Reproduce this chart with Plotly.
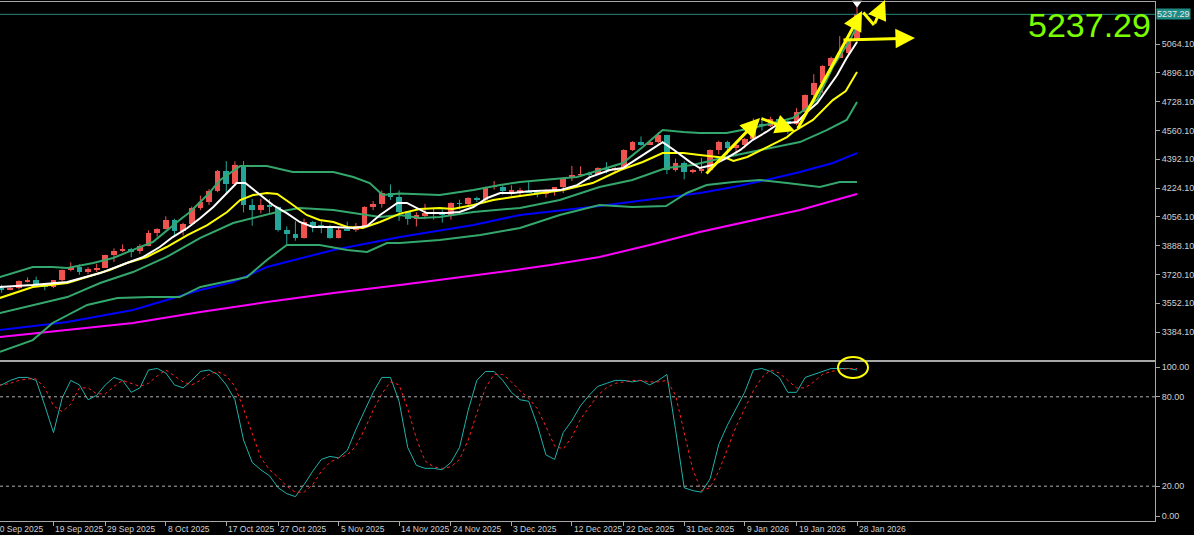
import plotly.graph_objects as go
import pandas as pd

# ---------------- data ----------------
dates = pd.bdate_range("2025-09-10", "2026-01-28")

opens = [3625,3641,3634,3643,3679,3690,3659,3644,3685,3746,3764,3736,3749,3760,3833,3858,3866,3856,3886,3960,
         3985,4040,3976,4017,4110,4143,4209,4326,4250,4356,4125,4094,4126,4112,3982,3953,3930,4025,4002,4000,
         3932,3980,3977,4000,4115,4128,4195,4171,4084,4045,4066,4077,4078,4065,4136,4131,4164,4156,4230,4230,
         4205,4206,4208,4197,4190,4208,4229,4280,4300,4304,4303,4338,4332,4339,4445,4490,4480,4490,4532,4332,
         4372,4319,4325,4330,4448,4495,4456,4477,4509,4597,4587,4625,4615,4595,4670,4765,4835,4935,4985,5010,5080]
highs = [3658,3660,3655,3685,3703,3707,3668,3687,3749,3791,3779,3762,3782,3835,3872,3895,3875,3897,3977,3990,
         4059,4045,4022,4116,4180,4218,4330,4381,4380,4382,4160,4162,4160,4115,4000,4030,4046,4032,4030,4010,
         3995,4028,4020,4118,4148,4210,4245,4211,4090,4083,4132,4110,4100,4140,4156,4170,4174,4232,4265,4240,
         4240,4226,4260,4210,4218,4230,4285,4353,4350,4320,4345,4375,4348,4450,4498,4525,4500,4550,4535,4395,
         4380,4335,4400,4450,4500,4500,4480,4515,4630,4635,4640,4630,4625,4690,4770,4888,4940,4990,5110,5100,5290]
lows = [3620,3613,3628,3633,3673,3646,3628,3640,3680,3738,3718,3722,3734,3758,3793,3850,3820,3840,3884,3940,
        3983,3945,3947,4007,4095,4125,4200,4185,4236,4082,4004,4076,4080,3970,3886,3917,3929,3966,3960,3928,
        3930,3974,3968,3998,4095,4110,4155,4032,4010,4000,4042,4040,4022,4040,4100,4120,4142,4150,4215,4185,
        4180,4175,4195,4170,4168,4180,4195,4265,4290,4270,4300,4310,4315,4338,4440,4470,4475,4485,4305,4320,
        4275,4310,4310,4325,4420,4420,4410,4455,4505,4560,4580,4580,4540,4590,4660,4750,4780,4900,4990,4995,5070]
closes = [3641,3634,3643,3679,3690,3659,3644,3685,3746,3764,3736,3749,3760,3833,3858,3866,3856,3886,3960,3985,
          4040,3976,4017,4110,4143,4209,4326,4250,4356,4125,4094,4126,4112,3982,3953,3930,4025,4002,4000,3932,
          3980,3977,4000,4115,4128,4195,4171,4084,4045,4066,4077,4078,4065,4136,4131,4164,4156,4230,4230,4205,
          4206,4208,4197,4190,4208,4229,4280,4300,4304,4303,4338,4332,4339,4445,4490,4480,4490,4532,4332,4372,
          4319,4325,4330,4448,4495,4456,4477,4509,4597,4587,4625,4615,4595,4670,4765,4835,4935,4985,5010,5080,5237.29]

# indicator lines (bar position, price)
fast_ma_x = [0.8,4.6,8.6,10.9,12.4,15.5,17.4,19.3,20.8,22.5,24,25.5,27.1,28.2,29.2,30.6,32.4,34,35.5,37,39.4,41.7,43.3,44.8,46.8,47.9,49.4,50.2,52.5,54,55.6,57.2,58.7,60.2,62,65.6,67.6,69.1,71.4,72.9,75.2,77.5,78.7,80.7,81.8,83.3,84.9,86.5,87.9,89.5,90.7,91.9,93.1,94.2,95.4,96.5,97.7,98.8,100]
fast_ma_y = [3647,3658,3676,3705,3728,3787,3822,3880,3938,3991,4049,4113,4195,4253,4253,4195,4125,4078,4026,3997,3997,3991,4003,4067,4137,4137,4096,4078,4078,4084,4113,4166,4195,4195,4205,4212,4241,4288,4329,4341,4416,4492,4450,4375,4341,4358,4399,4446,4504,4551,4592,4603,4609,4667,4720,4796,4883,4983,5076]

slow_ma_x = [0.8,4.6,8.6,11.6,13.5,15.5,17.8,20.1,22.5,24.8,27.1,28.6,30.1,31.7,32.9,34.4,36.3,37.8,39.4,41,42.8,44.8,47.1,49.4,51.7,53.2,55.6,57.9,60.2,66,69.4,72.6,75.2,77.5,79.9,81.8,84.9,85.7,87.3,89.6,91.9,92.6,94.9,97.2,98.7,100]
slow_ma_y = [3583,3647,3670,3717,3746,3787,3822,3880,3950,4008,4084,4154,4183,4195,4189,4137,4067,4038,4026,3997,3991,4026,4075,4102,4108,4102,4125,4154,4172,4212,4253,4329,4376,4428,4428,4417,4399,4382,4405,4463,4521,4551,4621,4737,4790,4901]

bb_up_x = [0.8,4.6,6.9,8.6,11.6,13.9,16.2,18.5,21.6,22.8,24.8,26.3,28.6,31.7,34.7,39.4,41.7,43.6,45.1,47.1,51.7,55.6,58.7,61,63.6,67.6,71.4,72.9,75.2,77.5,79.9,81.8,84.9,87.9,90.3,92.6,94.2,95.4,97.2,99.2,100]
bb_up_y = [3705,3763,3763,3758,3787,3816,3863,3909,4038,4084,4183,4271,4352,4352,4318,4318,4288,4253,4183,4192,4183,4212,4242,4259,4271,4288,4347,4370,4463,4562,4551,4545,4545,4574,4603,4633,4691,4740,4930,5087,5170]

bb_mid_x = [0.8,4.6,8.6,12.4,16.2,20.1,24,27.8,30.1,32.9,35.5,39.4,41.7,44.8,47.1,49.4,51.7,55.6,61,65.6,70.2,74,77.9,81,84.9,88.8,93.4,96.5,98.8,100]
bb_mid_y = [3495,3542,3588,3670,3734,3822,3933,4020,4049,4084,4108,4096,4078,4055,4067,4049,4055,4084,4108,4154,4230,4271,4341,4358,4405,4446,4492,4562,4621,4726]

bb_lo_x = [0.8,4.6,6.9,10.9,14.4,18.2,21.6,24,27.8,29.4,31.7,34,37.8,41,43.3,45.6,47.1,51.7,56.4,61,65.6,70.2,74,77.9,80.3,82.6,85.7,88.8,91.9,95.7,98,100]
bb_lo_y = [3268,3337,3437,3542,3583,3588,3588,3647,3688,3705,3804,3892,3892,3863,3851,3903,3903,3921,3950,3991,4067,4125,4113,4119,4195,4242,4259,4271,4253,4230,4259,4259]

ma50_x = [0.8,8.6,16.2,24,27.8,31.7,39.4,47.1,55.6,61,70.2,78,81.8,85.7,89.5,93.4,97.2,100]
ma50_y = [3396,3443,3513,3629,3676,3763,3863,3938,4008,4067,4119,4172,4195,4230,4271,4318,4370,4428]

ma100_x = [0.8,8.6,16.2,24,31.7,39.4,47.1,58.7,64.5,70.2,76,81.8,88,93.4,100]
ma100_y = [3355,3396,3437,3501,3559,3612,3658,3734,3775,3822,3892,3968,4038,4096,4189]

stoch_k = [88,88,91,93,93,91,74,56,79,91,88,78,81,88,93,91,83,86,98,99,
           96,88,86,91,97,98,95,88,78,51,36,31,27,19,15,13,21,30,38,40,
           39,44,58,71,83,93,93,77,46,34,32,32,31,36,46,71,91,97,97,91,
           83,78,77,61,41,38,56,64,74,81,87,89,91,91,90,91,88,91,95,58,
           19,17,16,25,48,61,72,83,98,99,97,93,83,83,93,95,97,99,99,99,98]
stoch_d = [87,88,89,91,92,92,86,74,70,75,86,86,82,82,87,91,89,87,89,94,
           98,94,90,88,91,95,97,94,87,72,55,39,31,26,20,16,16,21,30,36,
           39,41,47,58,71,82,90,88,72,52,37,33,32,33,38,51,69,86,95,95,
           90,84,79,72,60,47,45,53,65,73,81,86,89,90,91,91,90,90,91,81,
           57,31,17,19,30,45,60,72,84,93,98,96,91,86,86,90,95,97,98,99,99]

price_ticks = [5064.10, 4896.10, 4728.10, 4560.10, 4392.10, 4224.10, 4056.10, 3888.10, 3720.10, 3552.10, 3384.10]
stoch_ticks = [100.0, 80.0, 20.0, 0.0]
stoch_levels = [80, 20]
date_labels = ["10 Sep 2025", "19 Sep 2025", "29 Sep 2025", "8 Oct 2025", "17 Oct 2025", "27 Oct 2025",
               "5 Nov 2025", "14 Nov 2025", "24 Nov 2025", "3 Dec 2025", "12 Dec 2025", "22 Dec 2025",
               "31 Dec 2025", "9 Jan 2026", "19 Jan 2026", "28 Jan 2026"]
last_price = 5237.29

# hand-drawn yellow arrows: (tail bar, tail price, head bar, head price, head?)
arrows = [
    (82.41, 4300.0, 88.77, 4632.5, True),
    (88.77, 4632.5, 92.82, 4556.7, True),
    (93.06, 4562.5, 100.58, 5256.6, True),
    (100.58, 5256.6, 101.97, 5175.0, False),
    (101.97, 5175.0, 103.24, 5320.8, True),
    (98.26, 5087.5, 106.71, 5099.1, True),
]

# ---------------- figure ----------------
RED = "#ef5350"
TEAL = "#26a69a"
GRID = "#a8a8a8"
TXT = "#d0d0d0"
FONT = "Liberation Sans, Arial, sans-serif"

idx = list(range(len(dates)))
fig = go.Figure()

# wicks
for col, cond in ((RED, lambda o, c: c >= o), (TEAL, lambda o, c: c < o)):
    wx, wy = [], []
    for i in idx:
        if cond(opens[i], closes[i]):
            wx += [i, i, None]
            wy += [lows[i], highs[i], None]
    fig.add_trace(go.Scatter(x=wx, y=wy, mode="lines", line=dict(color=col, width=1),
                             hoverinfo="skip", showlegend=False, xaxis="x", yaxis="y"))

# bodies
body_base = [min(o, c) for o, c in zip(opens, closes)]
body_h = [max(abs(c - o), 4) for o, c in zip(opens, closes)]
body_col = [RED if c >= o else TEAL for o, c in zip(opens, closes)]
fig.add_trace(go.Bar(x=idx, y=body_h, base=body_base, width=0.66, marker=dict(color=body_col, line=dict(width=0)),
                     showlegend=False, xaxis="x", yaxis="y"))

def add_line(xs, ys, color, width=2, axis="y", dash=None):
    fig.add_trace(go.Scatter(x=xs, y=ys, mode="lines", line=dict(color=color, width=width, dash=dash),
                             hoverinfo="skip", showlegend=False, xaxis="x" if axis == "y" else "x2", yaxis=axis))

add_line(ma100_x, ma100_y, "#ff00ff")
add_line(ma50_x, ma50_y, "#0000ff")
add_line(bb_lo_x, bb_lo_y, "#34a86c")
add_line(bb_mid_x, bb_mid_y, "#34a86c")
add_line(bb_up_x, bb_up_y, "#34a86c")
add_line(slow_ma_x, slow_ma_y, "#ffff00")
add_line(fast_ma_x, fast_ma_y, "#ffffff")

# high marker
fig.add_trace(go.Scatter(x=[idx[-1]], y=[5303], mode="markers", marker=dict(symbol="triangle-down", size=9, color="#ffffff"),
                         cliponaxis=False, hoverinfo="skip", showlegend=False, xaxis="x", yaxis="y"))

# stochastic
add_line(idx, stoch_k, "#20b2aa", width=1, axis="y2")
add_line(idx, stoch_d, "#ff2020", width=1, axis="y2", dash="dot")

H_PLOT = 521.0
def py(px):
    return (H_PLOT - px) / H_PLOT

X_RANGE = [0.81, 134.49]
def xpaper(i):
    return (i - X_RANGE[0]) / (X_RANGE[1] - X_RANGE[0])

fig.update_layout(
    width=1194, height=535,
    margin=dict(l=0, r=39, t=0, b=14),
    paper_bgcolor="#000000", plot_bgcolor="#000000",
    barmode="overlay", bargap=0,
    font=dict(family=FONT, size=9, color=TXT),
    xaxis=dict(domain=[0, 1], range=X_RANGE, showgrid=False, zeroline=False, showticklabels=False,
               showline=True, linecolor=GRID, linewidth=1, mirror=True, anchor="y", ticks=""),
    yaxis=dict(domain=[py(360), py(2)], range=[5320.8 - 5.833 * 360, 5320.8 - 5.833 * 2], side="right",
               showgrid=False, zeroline=False, showline=True, linecolor=GRID, ticks="outside", ticklen=4,
               tickcolor=GRID, tickvals=price_ticks, ticktext=[f"{v:.2f}" for v in price_ticks],
               tickfont=dict(size=9, color=TXT, family=FONT), anchor="x", automargin=False),
    xaxis2=dict(domain=[0, 1], range=X_RANGE, showgrid=False, zeroline=False, showticklabels=False,
                showline=True, linecolor=GRID, linewidth=1, mirror=True, anchor="y2",
                ticks="outside", ticklen=4, tickcolor=GRID,
                tickvals=[dates.get_loc(pd.Timestamp(d)) for d in date_labels]),
    yaxis2=dict(domain=[0, py(362)], range=[(516 - 521) / 1.49, (516 - 362) / 1.49], side="right",
                showgrid=False, zeroline=False, showline=True, linecolor=GRID, ticks="outside", ticklen=4,
                tickcolor=GRID, tickvals=stoch_ticks, ticktext=[f"{v:.2f}" for v in stoch_ticks],
                tickfont=dict(size=9, color=TXT, family=FONT), anchor="x2", automargin=False),
)

shapes = []
# current price line
shapes.append(dict(type="line", xref="paper", x0=0, x1=1, yref="y", y0=last_price, y1=last_price,
                   line=dict(color="#23877f", width=1)))
# stochastic levels
for lv in stoch_levels:
    shapes.append(dict(type="line", xref="paper", x0=0, x1=1, yref="y2", y0=lv, y1=lv,
                       line=dict(color="#b0b0b0", width=1, dash="3px,3px")))
# ellipse on stochastic
shapes.append(dict(type="circle", xref="paper", yref="paper", x0=838 / 1155, x1=868 / 1155,
                   y0=py(378), y1=py(357), line=dict(color="#ffff00", width=2)))
fig.update_layout(shapes=shapes)

ann = []
for d in date_labels:
    ann.append(dict(x=xpaper(dates.get_loc(pd.Timestamp(d))), xref="paper", y=0, yref="paper", yanchor="top",
                    xanchor="left", text=d, showarrow=False, font=dict(size=8.5, color=TXT, family=FONT),
                    xshift=0, yshift=-1))
# price tag
ann.append(dict(x=1, xref="paper", y=last_price, yref="y", xanchor="left", yanchor="middle", text=f"{last_price:.2f}",
                showarrow=False, bgcolor="#1e8c84", font=dict(size=9, color="#e8e8e8", family=FONT),
                borderpad=0, xshift=1))
# big price text
ann.append(dict(x=1, xref="paper", y=py(25), yref="paper", xanchor="right", yanchor="middle", text=f"{last_price:.2f}",
                showarrow=False, font=dict(size=34, color="#7cfc00", family="Liberation Sans, Arial"), xshift=-2))
for tx, ty, hx, hy, head in arrows:
    ann.append(dict(x=hx, y=hy, xref="x", yref="y", ax=tx, ay=ty, axref="x", ayref="y", text="",
                    showarrow=True, arrowhead=2 if head else 0, arrowsize=1.3, arrowwidth=3, arrowcolor="#ffff00"))
fig.update_layout(annotations=ann)

fig.write_html("out.html", config={"displayModeBar": False},
               post_script="document.body.style.margin='0';document.body.style.background='#000';")
